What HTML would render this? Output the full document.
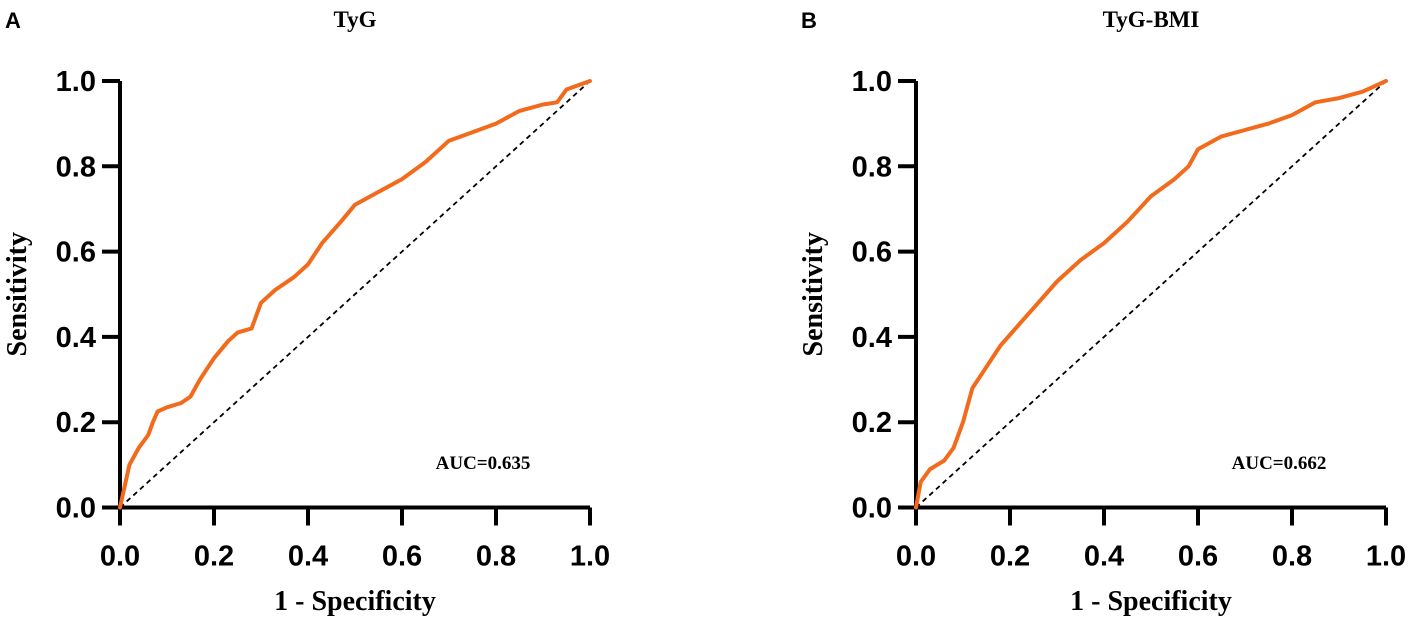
<!DOCTYPE html>
<html><head><meta charset="utf-8"><style>
html,body{margin:0;padding:0;background:#fff;}
svg{display:block;}
.tick{font:bold 29px "Liberation Sans",sans-serif;}
.ttl{font:bold 28px "Liberation Serif",serif;}
.ptl{font:bold 23px "Liberation Serif",serif;}
.let{font:bold 22px "Liberation Sans",sans-serif;}
.auc{font:bold 19px "Liberation Serif",serif;}
</style></head><body>
<svg id="chart" width="1417" height="621" viewBox="0 0 1417 621" xmlns="http://www.w3.org/2000/svg"></svg>
<script>
const ticks = [0, 0.2, 0.4, 0.6, 0.8, 1.0];
const tickLabels = ["0.0","0.2","0.4","0.6","0.8","1.0"];
const panelTitles = ["TyG","TyG-BMI"];
const panelLetters = ["A","B"];
const aucLabels = ["AUC=0.635","AUC=0.662"];
const fprA = [0,0.01,0.02,0.04,0.06,0.07,0.08,0.1,0.13,0.15,0.17,0.2,0.23,0.25,0.28,0.3,0.33,0.37,0.4,0.43,0.47,0.5,0.55,0.6,0.65,0.7,0.75,0.8,0.85,0.9,0.93,0.95,1];
const tprA = [0,0.05,0.1,0.14,0.17,0.2,0.225,0.235,0.245,0.26,0.3,0.35,0.39,0.41,0.42,0.48,0.51,0.54,0.57,0.62,0.67,0.71,0.74,0.77,0.81,0.86,0.88,0.9,0.93,0.945,0.95,0.98,1];
const fprB = [0,0.01,0.03,0.06,0.08,0.1,0.12,0.15,0.18,0.22,0.26,0.3,0.35,0.4,0.45,0.5,0.55,0.58,0.6,0.65,0.7,0.75,0.8,0.85,0.9,0.95,1];
const tprB = [0,0.06,0.09,0.11,0.14,0.2,0.28,0.33,0.38,0.43,0.48,0.53,0.58,0.62,0.67,0.73,0.77,0.8,0.84,0.87,0.885,0.9,0.92,0.95,0.96,0.975,1];
const series = [[fprA,tprA],[fprB,tprB]];

const svg = document.getElementById('chart');
const NS = 'http://www.w3.org/2000/svg';
function mk(tag, attrs, parent){const e=document.createElementNS(NS,tag);for(const k in attrs)e.setAttribute(k,attrs[k]);(parent||svg).appendChild(e);return e;}

[0,1].forEach(p=>{
  const ox = p===0 ? 120 : 916;
  const x0=ox, x1=ox+470, y0=507.5, y1=81;
  const xs=v=>x0+v*(x1-x0);
  const ys=v=>y0-v*(y0-y1);
  const g = mk('g',{});
  
  

  const let_ = mk('text',{x:ox-115,y:28,class:'let'},g);
  let_.textContent = panelLetters[p];
  
  

  const t = mk('text',{x:(x0+x1)/2,y:27,class:'ptl','text-anchor':'middle'},g);
  t.textContent = panelTitles[p];
  
  

  const ax = mk('path',{d:`M${x0} ${y1}V${y0}H${x1}`,stroke:'#000','stroke-width':4,fill:'none'},g);
  
  
  ticks.forEach((v,i)=>{
    mk('line',{x1:x0-18,x2:x0,y1:ys(v),y2:ys(v),stroke:'#000','stroke-width':4},g);
    const yl = mk('text',{x:x0-24,y:ys(v)+10,class:'tick','text-anchor':'end'},g);
    yl.textContent = tickLabels[i];
    
    
    mk('line',{x1:xs(v),x2:xs(v),y1:y0,y2:y0+18,stroke:'#000','stroke-width':4},g);
    const xl = mk('text',{x:xs(v),y:y0+58,class:'tick','text-anchor':'middle'},g);
    xl.textContent = tickLabels[i];
    
    
  });
  const xt = mk('text',{x:(x0+x1)/2,y:610,class:'ttl','text-anchor':'middle'},g);
  xt.textContent = '1 - Specificity';
  
  
  const yt = mk('text',{x:0,y:0,class:'ttl','text-anchor':'middle',transform:`translate(${ox-94},${(y0+y1)/2}) rotate(-90)`},g);
  yt.textContent = 'Sensitivity';
  
  

  const ref = mk('line',{x1:xs(0),y1:ys(0),x2:xs(1),y2:ys(1),stroke:'#000','stroke-width':1.8,'stroke-dasharray':'5,4'},g);
  
  

  const [fx,ty] = series[p];
  const d = fx.map((v,i)=>(i?'L':'M')+xs(v).toFixed(1)+' '+ys(ty[i]).toFixed(1)).join('');
  const c = mk('path',{d:d,stroke:'#f26a1b','stroke-width':4,fill:'none','stroke-linejoin':'round','stroke-linecap':'round'},g);
  
  

  const a = mk('text',{x:x0+363,y:469,class:'auc','text-anchor':'middle'},g);
  a.textContent = aucLabels[p];
  
  
});
</script>
</body></html>
